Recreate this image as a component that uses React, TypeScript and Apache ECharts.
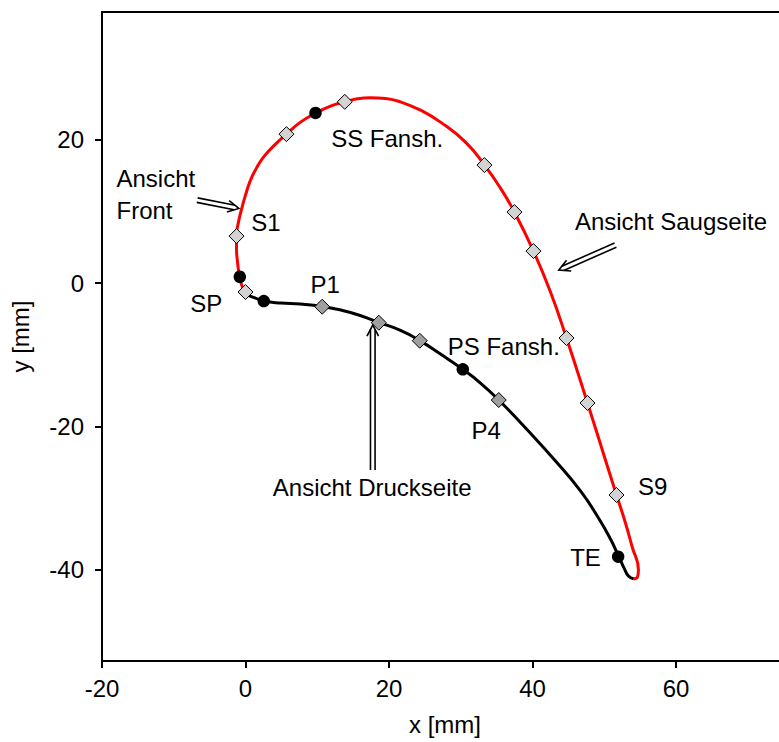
import React, { useEffect, useRef } from "react";
import * as echarts from "echarts";

// Suction side (red) profile, from leading edge to trailing edge [x, y] in mm
const suctionSide: number[][] = [
  [0.28, -1.67], [-0.42, -0.56], [-0.84, 0.98], [-1.11, 2.93], [-1.25, 4.74],
  [-1.25, 6.55], [-0.98, 8.5], [-0.46, 10.63], [0.0, 12.26], [0.7, 14.36],
  [1.53, 16.03], [2.51, 17.56], [4.04, 19.23], [5.71, 20.77], [7.67, 22.44],
  [9.76, 23.69], [11.85, 24.67], [13.8, 25.27], [15.61, 25.71], [17.42, 25.85],
  [19.51, 25.74], [21.6, 25.27], [24.39, 24.11], [27.18, 22.44], [30.66, 19.65],
  [33.31, 16.45], [35.54, 13.24], [37.49, 9.9], [40.14, 4.46], [42.51, -1.25],
  [44.74, -7.67], [47.67, -16.72], [50.17, -24.67], [51.71, -29.55], [52.96, -33.45],
  [53.9, -36.8], [54.77, -40.0], [54.63, -40.98], [54.1, -41.25],
];

// Pressure side (black) profile, from leading edge to trailing edge
const pressureSide: number[][] = [
  [0.28, -1.67], [1.39, -2.09], [2.55, -2.51], [4.88, -2.79], [7.67, -2.93],
  [10.69, -3.28], [14.63, -4.1], [18.58, -5.5], [21.6, -6.6], [24.29, -8.02],
  [27.18, -9.9], [30.29, -12.03], [32.75, -13.94], [35.3, -16.31], [39.3, -20.49],
  [43.21, -24.81], [46.69, -28.99], [49.2, -32.75], [50.87, -35.68], [51.99, -38.05],
  [52.82, -39.86], [53.38, -40.84], [54.1, -41.25],
];

// Measurement points on the suction side (light grey diamonds)
const suctionPoints: number[][] = [
  [0.0, -1.25], [-1.25, 6.55], [5.71, 20.77], [13.84, 25.27], [33.31, 16.45],
  [37.49, 9.9], [40.14, 4.46], [44.74, -7.67], [47.67, -16.72], [51.71, -29.55],
];

// Measurement points on the pressure side (grey diamonds)
const pressurePoints: number[][] = [
  [10.69, -3.3], [18.58, -5.53], [24.29, -8.04], [35.3, -16.31],
];

// Key points (black dots)
const keyPoints: number[][] = [
  [9.76, 23.73], [-0.79, 0.88], [2.55, -2.51], [30.29, -12.03], [51.94, -38.15],
];

// Annotation texts
const labelTexts: string[] = [
  "SS Fansh.", "S1", "SP", "P1", "PS Fansh.", "P4", "S9", "TE",
  "Ansicht Saugseite", "Ansicht Druckseite", "Ansicht\nFront",
];
const labelX: number[] = [19.75, 2.83, -5.46, 11.1, 36.0, 33.56, 56.76, 47.39, 59.3, 17.66, -17.98];
const labelY: number[] = [20.17, 8.4, -2.83, -0.14, -8.87, -20.49, -28.39, -38.23, 8.54, -28.57, 12.38];
const labelAlign: string[] = [
  "center", "center", "center", "center", "center", "center", "center", "center",
  "center", "center", "left",
];

// View arrows [x1, y1, x2 (tip), y2 (tip)]
const arrows: number[][] = [
  [-6.73, 11.57, -0.93, 10.41],
  [51.57, 5.3, 43.67, 1.81],
  [17.74, -26.06, 17.74, -5.85],
];

const xTicks: number[] = [-20, 0, 20, 40, 60];
const yTicks: number[] = [-40, -20, 0, 20];

const FONT = "'Liberation Sans', Arial, Helvetica, sans-serif";
const FS = 24;

export default function App() {
  const ref = useRef<HTMLDivElement>(null);

  useEffect(() => {
    if (!ref.current) return;
    const chart = echarts.init(ref.current, null, { renderer: "svg" });
    const axisLineStyle = { color: "#000", width: 2 };
    const textStyle = { color: "#000", fontSize: FS, fontFamily: FONT };

    const option: any = {
      animation: false,
      backgroundColor: "#fff",
      grid: { left: 102, top: 12, right: 0, height: 649, containLabel: false },
      xAxis: [
        {
          type: "value",
          min: -20,
          max: 74.36,
          position: "bottom",
          axisLine: { show: true, onZero: false, lineStyle: axisLineStyle },
          axisTick: { show: true, length: 7, lineStyle: axisLineStyle, customValues: xTicks },
          axisLabel: { customValues: xTicks, margin: 15, ...textStyle },
          splitLine: { show: false },
          name: "x [mm]",
          nameLocation: "middle",
          nameGap: 51,
          nameTextStyle: { ...textStyle, padding: [0, 0, 0, 9] },
        },
        {
          type: "value",
          min: -20,
          max: 74.36,
          position: "top",
          axisLine: { show: true, onZero: false, lineStyle: axisLineStyle },
          axisTick: { show: false },
          axisLabel: { show: false },
          splitLine: { show: false },
        },
      ],
      yAxis: {
        type: "value",
        min: -52.7,
        max: 37.8,
        axisLine: { show: true, onZero: false, lineStyle: axisLineStyle },
        axisTick: { show: true, length: 7, lineStyle: axisLineStyle, customValues: yTicks },
        axisLabel: { customValues: yTicks, margin: 18, ...textStyle },
        splitLine: { show: false },
        name: "y [mm]",
        nameLocation: "middle",
        nameGap: 70,
        nameRotate: 90,
        nameTextStyle: textStyle,
      },
      series: [
        {
          type: "line",
          data: suctionSide,
          symbol: "none",
          smooth: 0.5,
          lineStyle: { color: "#ff0000", width: 3 },
          z: 2,
        },
        {
          type: "line",
          data: pressureSide,
          symbol: "none",
          smooth: 0.5,
          lineStyle: { color: "#000", width: 3 },
          z: 2,
        },
        {
          type: "scatter",
          data: suctionPoints,
          symbol: "diamond",
          symbolSize: 15,
          itemStyle: { color: "#d3d3d3", borderColor: "#000", borderWidth: 1, opacity: 1 },
          z: 5,
        },
        {
          type: "scatter",
          data: pressurePoints,
          symbol: "diamond",
          symbolSize: 15,
          itemStyle: { color: "#a0a0a0", borderColor: "#000", borderWidth: 1, opacity: 1 },
          z: 5,
        },
        {
          type: "scatter",
          data: keyPoints,
          symbol: "circle",
          symbolSize: 12.5,
          itemStyle: { color: "#000", opacity: 1 },
          z: 6,
        },
        {
          type: "custom",
          data: arrows,
          clip: false,
          z: 10,
          silent: true,
          renderItem: (_params: any, api: any) => {
            const p1 = api.coord([api.value(0), api.value(1)]);
            const p2 = api.coord([api.value(2), api.value(3)]);
            const dx = p2[0] - p1[0];
            const dy = p2[1] - p1[1];
            const len = Math.hypot(dx, dy) || 1;
            const ux = dx / len;
            const uy = dy / len;
            const nx = -uy;
            const ny = ux;
            const w = 2.3;
            const hw = 5.8;
            const hl = 11;
            const back = (hl * w) / hw;
            const style = { stroke: "#000", lineWidth: 1.6, fill: null };
            return {
              type: "group",
              children: [
                {
                  type: "line",
                  shape: {
                    x1: p1[0] + nx * w, y1: p1[1] + ny * w,
                    x2: p2[0] - ux * back + nx * w, y2: p2[1] - uy * back + ny * w,
                  },
                  style,
                },
                {
                  type: "line",
                  shape: {
                    x1: p1[0] - nx * w, y1: p1[1] - ny * w,
                    x2: p2[0] - ux * back - nx * w, y2: p2[1] - uy * back - ny * w,
                  },
                  style,
                },
                {
                  type: "polyline",
                  shape: {
                    points: [
                      [p2[0] - ux * hl + nx * hw, p2[1] - uy * hl + ny * hw],
                      [p2[0], p2[1]],
                      [p2[0] - ux * hl - nx * hw, p2[1] - uy * hl - ny * hw],
                    ],
                  },
                  style,
                },
              ],
            };
          },
        },
        {
          type: "custom",
          data: labelX.map((x, i) => [x, labelY[i]]),
          clip: false,
          z: 11,
          silent: true,
          renderItem: (params: any, api: any) => {
            const p = api.coord([api.value(0), api.value(1)]);
            const i = params.dataIndex;
            return {
              type: "text",
              x: p[0],
              y: p[1],
              style: {
                text: labelTexts[i],
                fill: "#000",
                font: `${FS}px ${FONT}`,
                align: labelAlign[i],
                verticalAlign: "middle",
                lineHeight: 32,
              },
            };
          },
        },
      ],
    };

    chart.setOption(option);
    return () => {
      chart.dispose();
    };
  }, []);

  return (
    <div
      ref={ref}
      style={{ position: "fixed", left: 0, top: 0, width: 779, height: 742, background: "#fff" }}
    />
  );
}
